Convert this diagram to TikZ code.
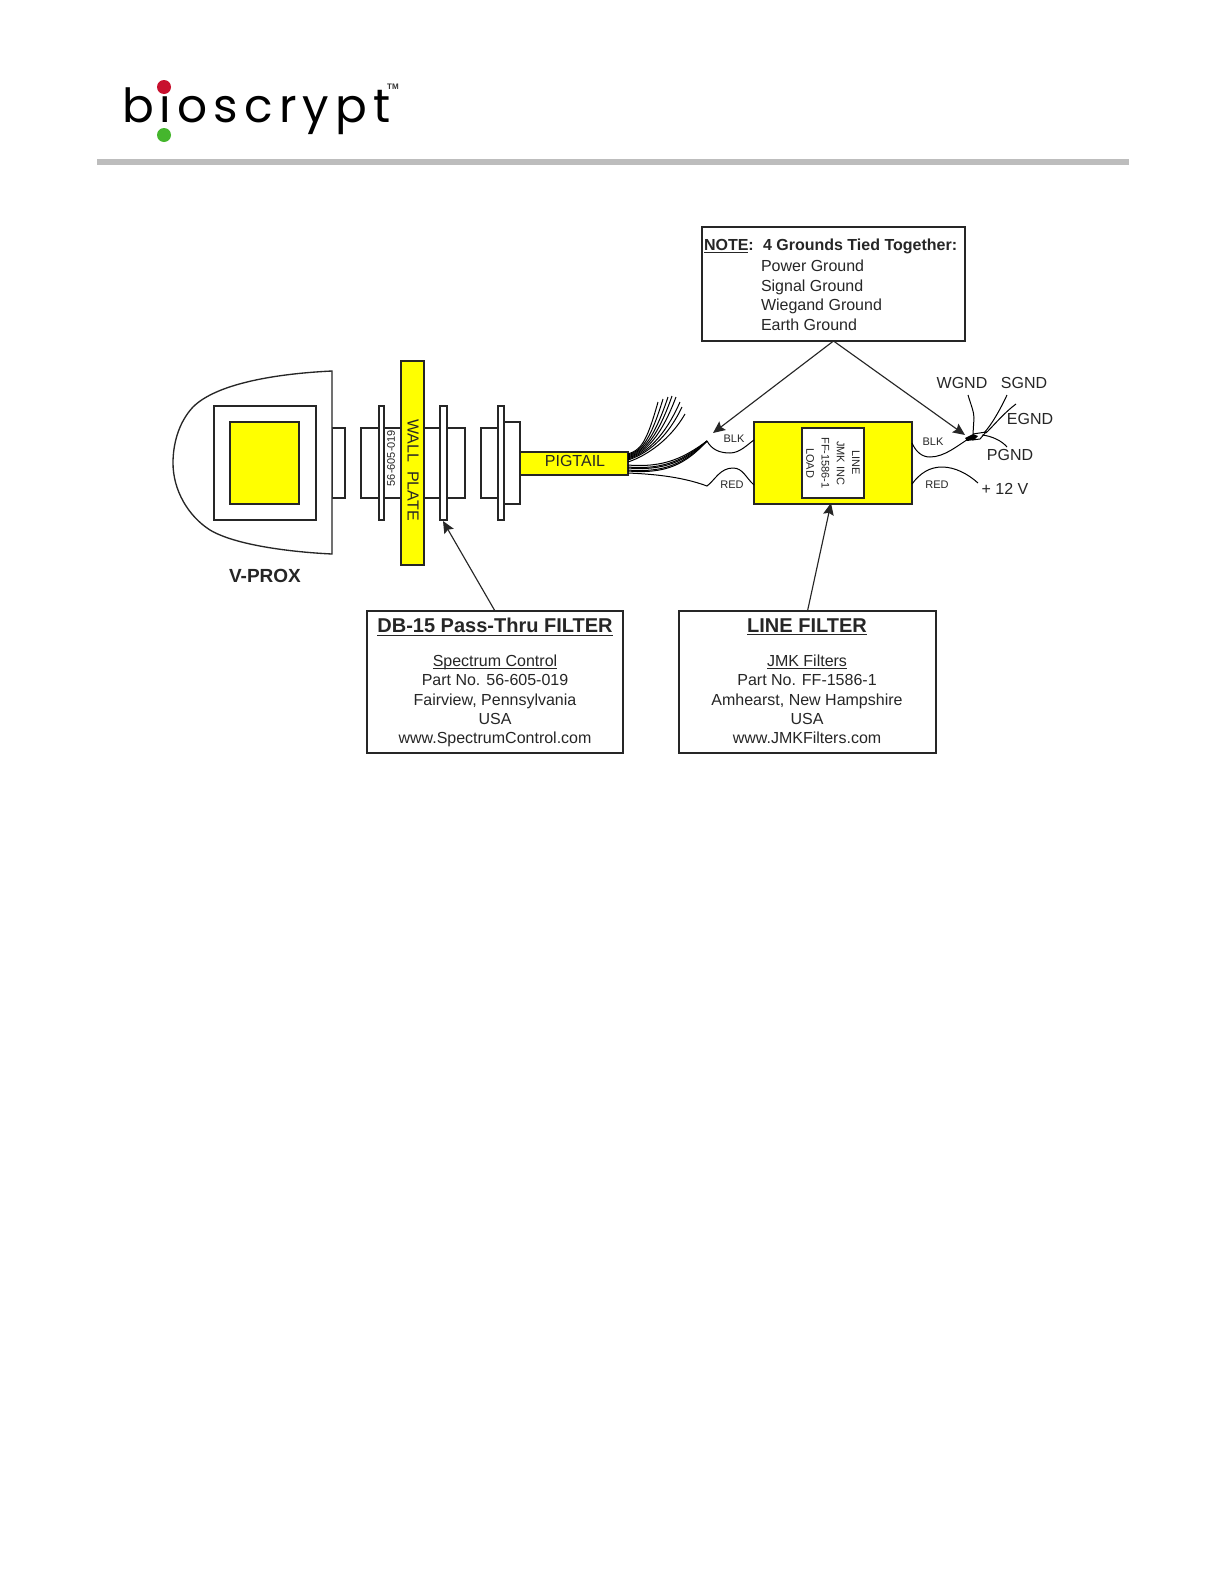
\documentclass[tikz,border=0pt]{standalone}
\usepackage{fontspec}
\setmainfont{Liberation Sans}
\newfontfamily\logofont[LetterSpace=13]{Poppins}
\usetikzlibrary{arrows.meta}
\definecolor{barg}{HTML}{BDBDBD}
\definecolor{logored}{HTML}{C8102E}
\definecolor{logogreen}{HTML}{45B62D}
\definecolor{pureyellow}{HTML}{FFFF00}
\newcommand\szf[1]{\pgfmathsetmacro\sza{#1*0.75}\pgfmathsetmacro\szb{#1*0.9}\fontsize{\sza pt}{\szb pt}\selectfont}
\newcommand\rectnode[6]{%
  \node[part,#6,minimum width={(#4-#2)*0.75pt},minimum height={(#5-#3)*0.75pt}] (#1) at ({(#2+#4)/2},{(#3+#5)/2}) {};}
\newcommand\tightul[1]{\leavevmode\setbox0=\hbox{#1}\rlap{\rule[-2pt]{\wd0}{0.6pt}}\box0\relax}
\tikzset{
  part/.style={draw=black!85,line width=1pt,fill=white,inner sep=0pt,outer sep=0pt,rectangle},
  yel/.style={fill=pureyellow},
  wire/.style={line width=0.75pt,black},
  pointer/.style={line width=0.85pt,black!85,-{Stealth[length=9pt,width=8pt,inset=1.5pt]}},
  lab/.style={inner sep=0pt,outer sep=0pt,text=black!85},
  small/.style={lab,font=\szf{11}},
  big/.style={lab,font=\szf{16}},
  infobox/.style={lab,align=center,font=\szf{16}},
}
\begin{document}
\begin{tikzpicture}[x=0.75pt,y=-0.75pt]
\useasboundingbox (0,0) rectangle (1225,1585);
\fill[white] (0,0) rectangle (1225,1585);
% logo
\node[lab,anchor=base west,text=black,font={\logofont\szf{47}}] (logo) at (122,122) {bioscrypt};
\fill[logored] (164,87) circle (7);
\fill[logogreen] (164,135) circle (7);
\node[lab,font=\bfseries\szf{8},text=black!80] (tm) at (393,87) {TM};
\fill[barg] (97,159) rectangle (1129,165);
% V-PROX body
\rectnode{vconn}{332}{428}{345}{498}{}
\draw[line width=1pt,black!85,fill=white] (332,371) .. controls (270,374) and (215,385) .. (193,407)
  .. controls (178,423) and (173,445) .. (173,463)
  .. controls (173,490) and (188,516) .. (210,530)
  .. controls (235,545) and (290,552) .. (332,554) -- cycle;
\rectnode{vout}{214}{406}{316}{520}{}
\rectnode{vin}{230}{422}{299}{504}{yel}
\node[lab,font=\bfseries\szf{19}] (vprox) at (265,576) {V-PROX};
% DB-15 filter
\rectnode{dbbody}{361}{428}{465}{498}{}
\rectnode{flangea}{379}{406}{384}{520}{}
\node[lab,rotate=90,font=\szf{11}] (partno) at (391,458) {56-605-019};
\rectnode{wall}{401}{361}{424}{565}{yel}
\node[lab,rotate=-90,font=\szf{16}] (walltext) at (413,470) {WALL\ \ PLATE};
\rectnode{flangeb}{440}{406}{447}{520}{}
% plug
\rectnode{plugl}{481}{428}{498}{498}{}
\rectnode{plugr}{504}{422}{520}{504}{}
\rectnode{plugf}{498}{406}{504}{520}{}
\rectnode{pigtail}{520}{452}{628}{475}{yel}
\node[lab,font=\szf{16}] (pigtext) at (575,461) {PIGTAIL};
% wire fan
\foreach \tx/\ty/\s/\c in {658/402/454/646,663/399/455/649,668/397/456/652,672/396/457/655,676/397/458/658,680/402/459/661,682/407/460/664,685/414/462/667}
  \draw[wire] (pigtail.east |- 0,\s) .. controls (640,{\s-4}) and (\c,445) .. (\tx,\ty);
\foreach \s/\c in {465/457,467/459,468/461,470/463,471/465}
  \draw[wire] (pigtail.east |- 0,\s) .. controls (665,{\s+3}) and (685,\c) .. (707,441);
% line filter
\rectnode{lfilter}{754}{422}{912}{504}{yel}
\node[part,rotate=-90,align=center,minimum width=70*0.75pt,minimum height=62*0.75pt,font=\szf{11},line width=1.1pt,text=black!85,inner sep=0pt] (lftext) at (833,463) {LINE\\[1.5pt]JMK INC\\[1.5pt]FF-1586-1\\[1.5pt]LOAD};
% left wires
\draw[wire] (707,441) .. controls (712,450) and (720,453) .. (730,453) .. controls (740,453) and (748,444) .. (lfilter.west |- 0,440);
\draw[wire] (pigtail.east |- 0,473) .. controls (650,474) and (680,476) .. (707,486) .. controls (715,480) and (720,468) .. (733,468) .. controls (743,468) and (746,478) .. (lfilter.west |- 0,485);
\node[small] (blkl) at (734,439) {BLK};
\node[small] (redl) at (732,485) {RED};
% right wires
\coordinate (knot) at (970,438);
\draw[wire] (lfilter.east |- 0,443) .. controls (916,452) and (922,457) .. (930,457) .. controls (945,457) and (958,445) .. (knot);
\draw[wire] (lfilter.east |- 0,484) .. controls (920,473) and (930,467) .. (942,467) .. controls (955,467) and (968,474) .. (978,483);
\draw[wire] (968,395) .. controls (971,405) and (974,412) .. (974,418) -- (973,434);
\draw[wire] (1007,395) .. controls (1000,410) and (992,424) .. (984,433);
\draw[wire] (1016,404) .. controls (1005,412) and (995,424) .. (986,433);
\draw[wire] (982,435) .. controls (992,436) and (1002,441) .. (1007,447);
\fill[black] (965,438) -- (973,434) -- (978,436) -- (974,440) -- (967,441) -- cycle;
\draw[wire] (973,434) -- (986,432) -- (980,439) -- (972,440);
\node[small] (blkr) at (933,442) {BLK};
\node[small] (redr) at (937,485) {RED};
\node[big] (wgnd) at (962,383) {WGND};
\node[big] (sgnd) at (1024,383) {SGND};
\node[big] (egnd) at (1030,419) {EGND};
\node[big] (pgnd) at (1010,455) {PGND};
\node[big] (plus) at (1005,489) {+ 12 V};
% note box
\rectnode{note}{702}{227}{965}{341}{}
\node[lab,anchor=base west,font=\bfseries\szf{16}] (notea) at (704,250) {\underline{NOTE}:};
\node[lab,anchor=base west,font=\bfseries\szf{16}] (noteb) at (763,250) {4 Grounds Tied Together:};
\node[big,anchor=base west] (notec) at (761,271) {Power Ground};
\node[big,anchor=base west] (noted) at (761,291) {Signal Ground};
\node[big,anchor=base west] (notee) at (761,310) {Wiegand Ground};
\node[big,anchor=base west] (notef) at (761,330) {Earth Ground};
\coordinate (tipa) at (713,433);
\coordinate (tipb) at (965,435);
\draw[pointer] (note.south) -- (tipa);
\draw[pointer] (note.south) -- (tipb);
% info boxes
\rectnode{dbbox}{367}{611}{623}{753}{}
\node[lab,font=\bfseries\szf{20}] (dbtitle) at (495,627) {\underline{DB-15 Pass-Thru FILTER}};
\node[infobox,anchor=north] (dbinfo) at (495,655) {\tightul{Spectrum Control}\\Part No. 56-605-019\\Fairview, Pennsylvania\\USA\\www.SpectrumControl.com};
\rectnode{lbox}{679}{611}{936}{753}{}
\node[lab,font=\bfseries\szf{20}] (ltitle) at (807,627) {\underline{LINE FILTER}};
\node[infobox,anchor=north] (linfo) at (807,655) {\tightul{JMK Filters}\\Part No. FF-1586-1\\Amhearst, New Hampshire\\USA\\www.JMKFilters.com};
\coordinate (tipc) at (443,521);
\coordinate (tipd) at (831,503);
\draw[pointer] (dbbox.north) -- (tipc);
\draw[pointer] (lbox.north) -- (tipd);
\end{tikzpicture}
\end{document}
